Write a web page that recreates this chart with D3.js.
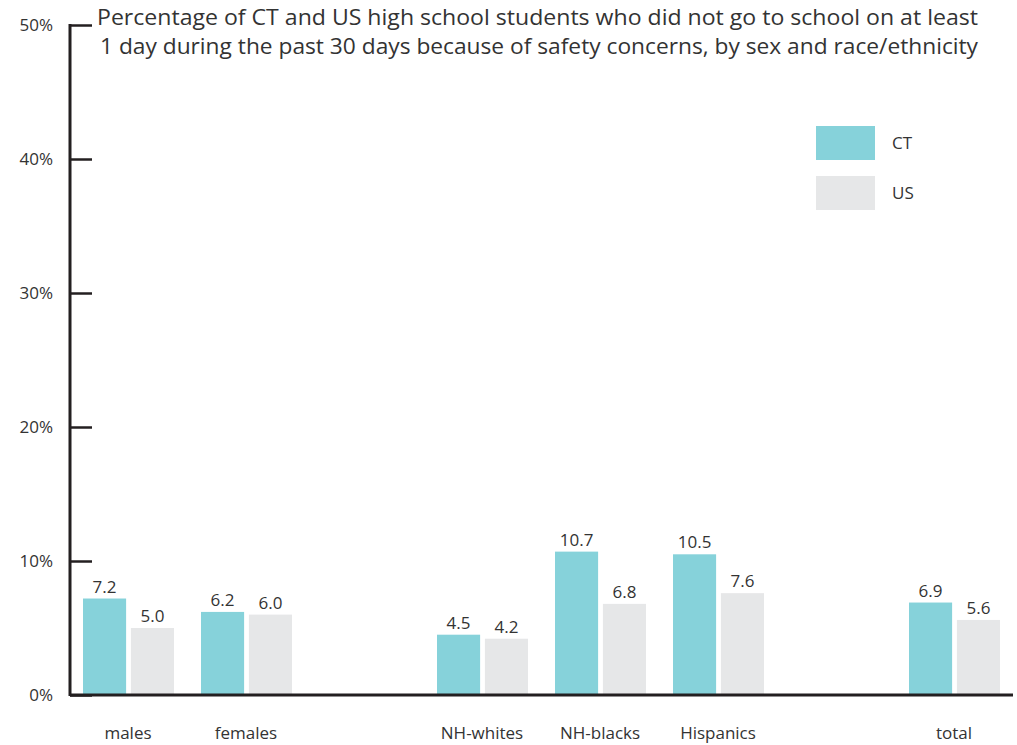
<!DOCTYPE html>
<html>
<head>
<meta charset="utf-8">
<script src="https://cdn.jsdelivr.net/npm/d3@7"></script>
<style>
  html, body { margin: 0; padding: 0; background: #fff; }
  svg { display: block; font-family: "Open Sans", "Noto Sans", sans-serif; }
</style>
</head>
<body>
<svg id="chart" width="1017" height="745"></svg>
<script>
// Groups along the x axis; empty keys leave spacing between the sex, race and total blocks
const categories = ["males", "females", "gap1", "NH-whites", "NH-blacks", "Hispanics", "gap2", "total"];
const groupLabels = ["males", "females", "", "NH-whites", "NH-blacks", "Hispanics", "", "total"];
const seriesNames = ["CT", "US"];
const ctValues = [7.2, 6.2, null, 4.5, 10.7, 10.5, null, 6.9];
const usValues = [5.0, 6.0, null, 4.2, 6.8, 7.6, null, 5.6];
const yTicks = [0, 10, 20, 30, 40, 50];
const titleLines = [
  "Percentage of CT and US high school students who did not go to school on at least",
  "1 day during the past 30 days because of safety concerns, by sex and race/ethnicity"
];

const colors = { CT: "#86d2da", US: "#e6e7e8" };
const textColor = "#333333";
const axisColor = "#231f20";

const svg = d3.select("#chart");

const x = d3.scaleBand().domain(categories).range([69, 1013]).padding(0);
const xInner = d3.scaleBand().domain(seriesNames).range([14, 105]).paddingInner(0.1);
const y = d3.scaleLinear().domain([0, 50]).range([695, 25]);

// Bars
const rows = [];
categories.forEach((c, i) => {
  if (ctValues[i] != null) rows.push({ cat: c, series: "CT", value: ctValues[i] });
  if (usValues[i] != null) rows.push({ cat: c, series: "US", value: usValues[i] });
});

svg.append("g").selectAll("rect").data(rows).join("rect")
  .attr("x", d => x(d.cat) + xInner(d.series))
  .attr("y", d => y(d.value))
  .attr("width", xInner.bandwidth())
  .attr("height", d => y(0) - y(d.value))
  .attr("fill", d => colors[d.series]);

// Value labels above bars
svg.append("g").selectAll("text").data(rows).join("text")
  .attr("x", d => x(d.cat) + xInner(d.series) + xInner.bandwidth() / 2)
  .attr("y", d => y(d.value) - 6)
  .attr("text-anchor", "middle")
  .attr("font-size", 17)
  .attr("fill", textColor)
  .text(d => d.value.toFixed(1));

// Y axis: line with ticks pointing into the plot
const yAxis = d3.axisRight(y)
  .tickValues(yTicks)
  .tickSize(22)
  .tickFormat("");
const yg = svg.append("g").attr("transform", "translate(70,0)").call(yAxis);
yg.select(".domain").remove();
yg.selectAll(".tick line").attr("stroke", axisColor).attr("stroke-width", 2.5);
svg.append("line")
  .attr("x1", 70).attr("x2", 70)
  .attr("y1", y(50) - 1).attr("y2", y(0) + 1)
  .attr("stroke", axisColor).attr("stroke-width", 3);

// Y tick labels
svg.append("g").selectAll("text").data(yTicks).join("text")
  .attr("x", 53)
  .attr("y", d => y(d))
  .attr("dy", "0.35em")
  .attr("text-anchor", "end")
  .attr("font-size", 17)
  .attr("fill", textColor)
  .text(d => d + "%");

// Baseline
svg.append("line")
  .attr("x1", 70).attr("x2", 1013)
  .attr("y1", y(0)).attr("y2", y(0))
  .attr("stroke", axisColor).attr("stroke-width", 3);

// Category labels
svg.append("g").selectAll("text").data(categories).join("text")
  .attr("x", d => x(d) + x.bandwidth() / 2)
  .attr("y", 739)
  .attr("text-anchor", "middle")
  .attr("font-size", 17)
  .attr("fill", textColor)
  .text((d, i) => groupLabels[i]);

// Title
svg.append("g").selectAll("text").data(titleLines).join("text")
  .attr("x", (d, i) => i === 0 ? 537.5 : 539)
  .attr("y", (d, i) => 25 + i * 29)
  .attr("text-anchor", "middle")
  .attr("font-size", 22)
  .attr("textLength", (d, i) => i === 0 ? 881 : 878)
  .attr("lengthAdjust", "spacingAndGlyphs")
  .attr("fill", textColor)
  .text(d => d);

// Legend
const legend = svg.append("g").selectAll("g").data(seriesNames).join("g")
  .attr("transform", (d, i) => `translate(816,${126 + i * 50})`);
legend.append("rect")
  .attr("width", 59).attr("height", 34)
  .attr("fill", d => colors[d]);
legend.append("text")
  .attr("x", 76).attr("y", 17)
  .attr("dy", "0.35em")
  .attr("font-size", 17)
  .attr("fill", textColor)
  .text(d => d);
</script>
</body>
</html>
